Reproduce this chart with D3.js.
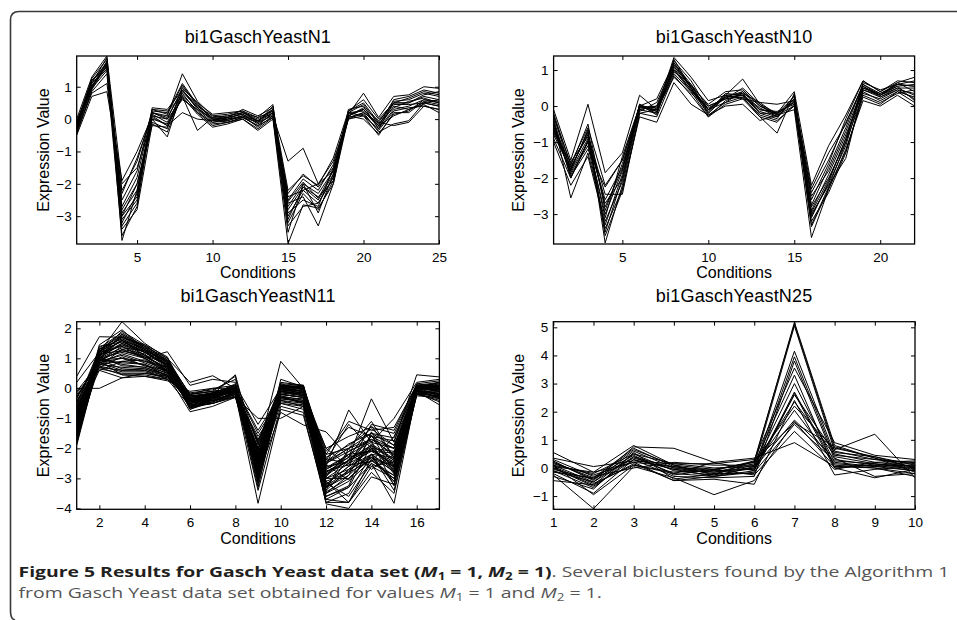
<!DOCTYPE html>
<html>
<head>
<meta charset="utf-8">
<script src="https://cdn.jsdelivr.net/npm/d3@7/dist/d3.min.js"></script>
<style>
    body { margin: 0; background: #fff; }
    svg { display: block; }
</style>
</head>
<body>
<svg id="chart" width="957" height="620"></svg>
<script>
'use strict';

// bi1GaschYeastN1 (25 conditions)
const n1Series = [
    [-0.5, 0.7, 0.85, -1.9, -1.0, 0.1, -0.2, 0.2, 0.0, -0.05, 0.0, 0.05, -0.1, 0.1, -1.3, -0.9, -2.0, -1.6, 0.1, 0.3, -0.2, 0.1, 0.3, 0.5, 0.4],
    [-0.4, 0.8, 1.1, -2.2, -1.3, 0.2, 0.0, 0.6, 0.3, 0.0, -0.05, 0.1, -0.05, 0.2, -2.3, -1.7, -2.1, -1.5, 0.0, 0.2, -0.1, -0.2, -0.1, 0.4, 0.3],
    [-0.3, 0.95, 1.5, -2.5, -1.6, 0.3, 0.25, 0.7, -0.35, 0.05, 0.1, 0.2, 0.0, 0.3, -2.5, -1.85, -2.2, -1.4, 0.2, 0.1, -0.3, 0.5, 0.5, 0.7, 0.6],
    [-0.2, 1.1, 1.6, -2.8, -2.0, 0.0, -0.55, 0.9, 0.4, 0.1, 0.15, 0.25, -0.1, 0.4, -2.7, -2.0, -2.3, -1.6, 0.25, 0.5, -0.1, 0.55, 0.6, 0.8, 0.7],
    [-0.1, 1.2, 1.7, -2.9, -2.2, -0.1, -0.3, 1.0, 0.5, 0.0, -0.1, 0.05, -0.2, 0.2, -2.8, -2.1, -2.5, -1.7, 0.1, 0.3, -0.2, 0.6, 0.7, 0.9, 0.8],
    [0.0, 1.3, 1.95, -3.0, -2.4, 0.2, 0.1, 1.4, 0.55, 0.1, 0.0, 0.2, 0.05, 0.45, -3.0, -2.2, -2.6, -1.8, 0.15, 0.8, 0.05, 0.7, 0.75, 1.0, 0.95],
    [-0.3, 1.0, 1.8, -3.1, -2.5, 0.35, 0.3, 0.9, 0.3, -0.1, -0.05, 0.1, -0.25, 0.1, -3.2, -2.3, -2.8, -1.9, 0.3, 0.4, -0.3, 0.3, 0.4, 0.6, 0.5],
    [-0.45, 0.9, 1.7, -3.2, -2.3, 0.15, -0.1, 0.8, 0.2, -0.2, -0.1, 0.0, -0.35, 0.0, -3.85, -2.65, -2.75, -2.0, 0.05, 0.2, -0.4, -0.15, -0.05, 0.5, 0.4],
    [-0.35, 1.05, 1.55, -3.3, -2.6, 0.05, -0.2, 0.85, 0.35, -0.05, 0.05, 0.15, -0.15, 0.15, -2.6, -2.4, -3.3, -2.0, 0.2, 0.25, -0.25, 0.4, 0.3, 0.45, 0.2],
    [-0.25, 1.15, 1.75, -3.4, -2.8, -0.15, -0.4, 0.75, 0.25, -0.15, -0.1, 0.05, -0.2, 0.05, -3.5, -2.0, -2.9, -1.7, 0.0, 0.1, -0.5, 0.2, 0.2, 0.55, 0.45],
    [-0.15, 1.25, 1.85, -3.75, -2.2, 0.25, 0.2, 1.1, 0.45, 0.0, 0.05, 0.3, 0.1, 0.35, -2.2, -1.75, -2.05, -1.2, 0.25, 0.6, 0.0, 0.5, 0.5, 0.75, 0.85],
    [-0.05, 1.0, 1.65, -2.3, -1.2, 0.1, 0.0, 0.95, 0.5, 0.15, 0.2, 0.25, 0.05, 0.25, -2.9, -2.5, -2.7, -1.5, 0.1, 0.35, -0.05, 0.45, 0.45, 0.5, 0.6],
    [-0.4, 0.85, 1.4, -3.6, -2.7, 0.3, 0.15, 1.05, 0.4, 0.05, 0.1, 0.2, -0.05, 0.3, -3.1, -2.1, -2.4, -1.9, 0.2, 0.45, -0.15, 0.35, 0.55, 0.65, 0.5],
    [-0.2, 1.1, 1.9, -2.0, -1.5, 0.0, -0.15, 0.65, 0.2, -0.1, 0.0, 0.1, -0.1, 0.2, -2.4, -2.2, -2.0, -1.3, 0.05, 0.15, -0.35, 0.25, 0.35, 0.4, 0.3],
    [-0.3, 1.2, 1.6, -3.0, -2.0, -0.2, -0.25, 0.7, 0.15, -0.25, -0.15, 0.0, -0.3, 0.05, -3.3, -2.7, -2.6, -1.8, 0.1, 0.0, -0.45, 0.15, 0.25, 0.6, 0.55],
    [-0.1, 0.95, 1.75, -2.7, -1.8, 0.2, 0.05, 0.9, 0.35, 0.0, 0.05, 0.15, -0.05, 0.25, -2.55, -1.95, -2.45, -1.6, 0.15, 0.3, -0.2, 0.5, 0.65, 0.85, 0.75]
];

// bi1GaschYeastN10 (22 conditions)
const n10Series = [
    [-0.1, -1.5, 0.05, -1.85, -1.3, 0.3, -0.1, 1.35, 0.8, 0.15, 0.3, 0.75, 0.05, -0.2, 0.4, -2.2, -1.1, -0.25, 0.7, 0.4, 0.65, 0.8],
    [-0.3, -1.6, -0.6, -2.2, -1.5, 0.0, 0.2, 1.2, 0.6, 0.0, 0.2, 0.5, 0.05, -0.3, 0.2, -2.3, -1.3, -0.5, 0.6, 0.35, 0.6, 0.7],
    [-0.5, -1.7, -0.8, -2.45, -2.45, -0.2, -0.1, 1.1, 0.5, -0.1, 0.1, 0.4, -0.1, -0.2, 0.1, -2.5, -1.8, -0.7, 0.5, 0.3, 0.55, 0.6],
    [-0.7, -1.8, -0.9, -2.7, -2.0, 0.0, -0.2, 1.0, 0.45, -0.2, 0.25, 0.3, -0.2, -0.35, 0.3, -2.8, -2.0, -1.0, 0.65, 0.45, 0.6, 0.55],
    [-0.9, -2.0, -1.0, -3.0, -1.8, 0.05, -0.15, 0.9, 0.4, -0.3, 0.15, 0.35, 0.1, -0.25, 0.0, -3.0, -2.2, -1.45, 0.45, 0.25, 0.5, 0.5],
    [-0.4, -2.55, -1.3, -3.2, -2.1, -0.05, 0.0, 1.25, 0.7, -0.1, 0.3, 0.2, -0.3, -0.75, 0.35, -3.1, -2.1, -0.9, 0.55, 0.3, 0.65, 0.4],
    [-0.6, -1.9, -1.1, -3.4, -2.3, -0.3, -0.45, 0.65, 0.05, -0.25, 0.0, 0.05, -0.4, -0.25, -0.1, -3.65, -2.3, -1.2, 0.15, 0.0, 0.3, 0.0],
    [-0.8, -1.75, -0.7, -3.8, -2.2, -0.1, -0.2, 1.3, 0.5, -0.15, 0.35, 0.3, -0.15, -0.3, 0.2, -3.2, -2.4, -1.3, 0.35, 0.2, 0.45, 0.35],
    [-1.0, -2.2, -1.4, -3.3, -1.9, 0.0, -0.1, 0.8, 0.35, -0.05, 0.2, 0.25, -0.25, -0.4, 0.0, -2.9, -1.9, -0.8, 0.4, 0.15, 0.4, 0.25],
    [-0.2, -1.65, -0.5, -2.9, -1.6, -0.15, 0.1, 1.15, 0.55, 0.05, 0.4, 0.45, 0.0, -0.2, 0.25, -2.6, -1.6, -0.35, 0.7, 0.4, 0.7, 0.65],
    [-0.55, -1.85, -1.0, -3.1, -1.4, 0.0, -0.05, 1.05, 0.45, -0.1, 0.25, 0.3, -0.05, -0.3, 0.15, -3.05, -2.15, -1.1, 0.5, 0.35, 0.55, 0.15],
    [-0.35, -2.0, -0.95, -2.6, -1.7, -0.05, -0.1, 0.95, 0.6, -0.2, 0.3, 0.35, -0.2, -0.2, 0.1, -2.75, -1.7, -0.6, 0.6, 0.3, 0.5, 0.3],
    [-0.75, -1.55, -0.85, -3.5, -2.0, 0.05, -0.25, 1.2, 0.5, -0.25, 0.1, 0.25, -0.3, -0.45, 0.05, -3.3, -2.25, -1.0, 0.3, 0.1, 0.35, 0.45],
    [-0.45, -1.95, -1.2, -2.25, -1.5, -0.1, 0.0, 1.0, 0.4, 0.0, 0.2, 0.3, -0.1, -0.15, 0.05, -2.4, -1.5, -0.45, 0.55, 0.25, 0.45, 0.2],
    [-0.65, -1.7, -0.75, -2.8, -1.75, 0.0, -0.15, 1.1, 0.55, -0.1, 0.25, 0.4, 0.0, -0.25, 0.2, -2.95, -2.05, -0.9, 0.45, 0.3, 0.6, 0.55],
    [-0.25, -1.8, -0.65, -3.6, -2.35, -0.2, -0.3, 0.85, 0.3, -0.3, 0.05, 0.2, 0.1, 0.05, 0.15, -3.35, -2.3, -1.25, 0.25, 0.05, 0.4, 0.1]
];

// bi1GaschYeastN11 (17 conditions)
const n11Series = [
    [-1.9, 1.0, 1.5, 1.2, 0.8, -0.4, -0.2, 0.0, -2.5, 0.0, -0.1, -2.8, -2.4, -1.9, -2.4, 0.0, -0.1],
    [-1.5, 1.2, 1.7, 1.3, 0.9, -0.3, -0.15, -0.1, -2.8, 0.1, 0.0, -3.2, -2.6, -2.0, -2.6, 0.05, 0.0],
    [-1.2, 1.3, 1.8, 1.4, 0.7, -0.5, -0.3, 0.1, -3.0, -0.1, -0.2, -3.5, -2.9, -2.2, -2.8, -0.05, -0.2],
    [-1.0, 1.1, 1.6, 1.1, 0.6, -0.6, -0.35, 0.0, -2.2, -0.2, -0.3, -2.5, -2.1, -1.7, -2.2, 0.1, 0.1],
    [-0.8, 0.9, 1.4, 1.0, 0.5, -0.45, -0.25, -0.05, -1.8, 0.05, 0.05, -2.2, -2.0, -1.5, -1.9, 0.0, 0.2],
    [-0.6, 0.8, 0.9, 0.8, 0.4, -0.3, -0.2, -0.15, -2.0, -0.4, -0.6, -3.0, -2.5, -2.1, -2.5, -0.1, -0.3],
    [-0.4, 0.7, 0.6, 0.6, 0.3, -0.2, -0.1, 0.0, -1.5, -0.3, -0.5, -2.7, -2.2, -1.8, -2.0, 0.05, -0.1],
    [-0.2, 0.65, 0.5, 0.5, 0.35, -0.25, -0.15, -0.2, -1.6, -0.5, -0.7, -3.3, -2.8, -2.4, -2.9, -0.2, -0.4],
    [0.0, 0.0, 0.35, 0.4, 0.25, -0.1, 0.0, 0.1, -1.2, 0.0, -0.1, -2.0, -1.6, -1.3, -1.5, 0.1, 0.0],
    [0.4, 1.72, 1.7, 1.45, 0.9, -0.35, -0.3, -0.05, -2.6, 0.1, 0.05, -3.0, -3.0, -2.3, -3.1, 0.0, -0.2],
    [-1.7, 1.2, 2.22, 1.5, 1.0, 0.2, 0.42, 0.0, -3.2, -0.2, -0.3, -3.85, -4.0, -2.95, -3.2, -0.15, -0.3],
    [-1.3, 1.45, 1.95, 1.3, 0.85, -0.55, -0.4, -0.2, -3.83, -0.7, -0.9, -3.7, -3.3, -2.5, -3.83, -0.1, -0.55],
    [-1.1, 1.0, 1.2, 1.0, 1.22, 0.1, 0.3, 0.2, -2.3, 0.2, 0.1, -2.6, -0.72, -1.8, -1.0, 0.2, 0.3],
    [-0.9, 0.95, 1.0, 0.9, 0.7, -0.4, -0.3, -0.1, -2.1, 0.9, 0.0, -2.4, -1.2, -2.0, -2.1, 0.0, 0.1],
    [-0.7, 1.1, 1.5, 1.1, 0.8, -0.6, -0.5, -0.25, -2.9, -0.8, -1.22, -1.45, -2.3, -0.35, -1.8, 0.45, 0.38],
    [-0.5, 1.3, 1.65, 1.25, 0.75, -0.7, -0.45, -0.1, -2.4, 0.15, -0.05, -3.1, -3.8, -2.6, -3.0, -0.2, -0.25],
    [-0.3, 1.0, 0.8, 0.7, 0.45, -0.78, -0.6, -0.3, -1.0, -1.0, -0.6, -2.2, -1.1, -1.4, -1.3, 0.1, 0.0],
    [-1.6, 0.75, 1.3, 1.15, 0.55, -0.5, -0.35, -0.05, -2.7, -0.05, -0.15, -3.4, -2.7, -2.0, -2.7, -0.05, -0.35],
    [-1.4, 1.15, 1.75, 1.35, 0.95, -0.2, -0.1, 0.4, -3.1, 0.3, 0.05, -2.9, -2.4, -1.6, -2.3, 0.15, 0.05],
    [-0.1, 0.85, 1.0, 0.75, 0.5, -0.15, -0.05, 0.3, -1.9, -0.1, -0.2, -3.6, -3.3, -1.9, -2.4, 0.0, 0.2],
    [-1.8, 1.25, 1.55, 1.2, 0.7, -0.65, -0.4, -0.15, -2.45, -0.25, -0.4, -2.8, -2.3, -1.25, -2.3, 0.05, -0.05],
    [-0.6, 0.9, 1.1, 0.85, 0.55, -0.45, -0.2, 0.0, -2.0, -0.15, -0.25, -3.2, -2.6, -2.2, -2.7, -0.1, -0.15],
    [-0.85, 1.05, 1.45, 1.05, 0.65, -0.35, -0.25, 0.05, -2.25, 0.05, -0.1, -2.5, -2.0, -1.7, -2.0, 0.0, 0.1],
    [-1.05, 1.35, 1.85, 1.4, 1.0, -0.25, -0.2, 0.15, -2.65, -0.05, 0.0, -3.0, -2.7, -2.3, -2.6, 0.1, 0.15],
    [-0.45, 0.8, 0.7, 0.65, 0.4, -0.5, -0.3, -0.1, -1.7, -0.35, -0.45, -3.3, -2.9, -1.55, -2.8, -0.15, -0.45],
    [-1.25, 1.1, 1.6, 1.2, 0.8, -0.7, -0.35, -0.2, -3.4, -0.6, -0.8, -3.8, -3.5, -2.2, -3.2, -0.25, -0.3],
    [-0.65, 0.7, 0.45, 0.45, 0.3, -0.3, -0.25, 0.0, -2.05, 0.1, 0.0, -2.3, -1.9, -1.35, -1.9, 0.05, -0.05],
    [-1.45, 1.3, 1.75, 1.3, 0.85, -0.4, -0.15, 0.1, -2.85, 0.05, -0.05, -2.65, -2.2, -2.6, -2.45, 0.0, 0.1],
    [0.2, 1.2, 1.4, 1.0, 0.6, -0.2, 0.0, 0.0, -1.4, -0.2, -0.3, -2.0, -2.6, -1.2, -1.4, 0.15, 0.25],
    [-0.95, 0.6, 0.9, 0.95, 0.55, -0.55, -0.4, -0.3, -2.35, -0.45, -0.55, -3.5, -3.1, -2.4, -3.0, -0.05, -0.2],
    [-1.15, 1.0, 1.35, 1.25, 0.75, -0.45, -0.3, -0.1, -2.15, 0.0, -0.1, -2.7, -2.3, -2.05, -2.55, 0.05, 0.0],
    [-0.75, 1.15, 1.6, 1.3, 0.8, -0.6, -0.45, -0.15, -2.55, -0.1, -0.2, -3.1, -2.8, -1.85, -2.35, -0.1, -0.1],
    [-1.55, 0.95, 1.25, 1.1, 0.65, -0.3, -0.2, 0.05, -3.0, -0.3, -0.35, -2.45, -2.0, -2.7, -2.2, 0.1, 0.05],
    [-0.35, 1.05, 1.8, 1.35, 0.9, -0.2, -0.1, 0.0, -1.85, 0.05, 0.1, -2.35, -2.5, -1.6, -1.75, 0.0, 0.15],
    [-1.35, 0.85, 1.15, 0.9, 0.6, -0.65, -0.5, -0.2, -2.75, -0.25, -0.5, -3.7, -3.8, -2.8, -3.5, -0.2, -0.35],
    [-0.55, 1.25, 1.7, 1.4, 0.95, -0.35, -0.2, 0.45, -2.35, 0.0, 0.05, -2.9, -2.2, -2.1, -2.15, 0.05, 0.05],
    [-1.75, 0.9, 0.45, 0.4, 0.3, -0.6, -0.5, -0.3, -2.9, -0.5, -0.6, -3.8, -3.8, -2.35, -3.1, -0.1, -0.2],
    [-0.25, 0.6, 0.35, 0.5, 0.4, -0.4, -0.2, -0.1, -2.2, -0.15, -0.2, -2.1, -1.3, -1.6, -2.0, 0.05, 0.0],
    [-1.65, 1.05, 0.75, 0.7, 0.45, -0.45, -0.3, -0.05, -3.1, 0.0, -0.1, -3.3, -2.35, -1.9, -2.85, 0.0, -0.1],
    [-0.15, 0.75, 0.55, 0.55, 0.35, -0.35, -0.25, 0.0, -2.6, -0.05, -0.1, -2.55, -3.05, -2.2, -2.3, 0.1, 0.05],
    [-1.05, 0.95, 0.85, 0.8, 0.5, -0.5, -0.35, -0.1, -2.4, -0.2, -0.3, -3.6, -3.25, -1.45, -2.6, -0.05, -0.25],
    [-0.5, 0.7, 1.05, 0.75, 0.6, -0.25, -0.2, 0.05, -2.95, -0.35, -0.4, -2.95, -2.1, -1.75, -3.25, 0.05, 0.1],
    [-1.4, 1.4, 1.55, 1.25, 0.9, -0.4, -0.25, 0.0, -2.7, 0.15, 0.1, -2.75, -2.55, -2.45, -1.6, 0.0, -0.05],
    [-0.95, 1.15, 1.25, 1.05, 0.7, -0.5, -0.4, -0.15, -2.0, -0.1, -0.15, -3.4, -2.0, -1.1, -2.3, 0.1, 0.0],
    [-1.2, 1.0, 1.65, 1.3, 0.85, -0.3, -0.15, 0.1, -2.5, 0.05, 0.0, -3.15, -3.6, -2.5, -2.9, -0.05, 0.1],
    [-0.7, 0.85, 0.6, 0.65, 0.45, -0.55, -0.45, -0.2, -2.3, -0.4, -0.5, -2.6, -2.45, -1.95, -2.65, -0.1, -0.2],
    [-1.85, 1.2, 1.9, 1.45, 1.05, -0.45, -0.35, -0.05, -3.3, -0.1, -0.25, -3.25, -2.75, -2.2, -3.4, -0.15, -0.25],
    [-0.3, 0.9, 1.3, 1.0, 0.6, -0.4, -0.3, -0.1, -1.75, 0.1, 0.05, -2.45, -1.85, -1.5, -1.65, 0.1, 0.2],
    [-1.5, 1.1, 1.45, 1.2, 0.75, -0.6, -0.5, -0.25, -2.8, -0.3, -0.45, -3.45, -3.0, -2.3, -2.75, -0.1, -0.3],
    [-0.8, 0.95, 0.65, 0.6, 0.4, -0.35, -0.2, 0.0, -2.2, -0.05, -0.15, -2.85, -2.4, -2.05, -2.45, 0.0, -0.05]
];

// bi1GaschYeastN25 (10 conditions)
const n25Series = [
    [0.55, -0.15, 0.8, 0.1, -0.05, 0.2, 5.18, 0.8, 0.35, 0.0],
    [0.2, -0.35, 0.7, 0.05, -0.1, 0.25, 5.12, 0.7, 0.4, 0.1],
    [0.1, -0.5, 0.6, 0.0, -0.2, 0.1, 5.05, 0.6, 0.3, 0.15],
    [0.0, -0.6, 0.5, -0.1, -0.25, 0.0, 4.15, 0.5, 0.2, 0.05],
    [-0.1, -0.7, 0.4, -0.2, -0.3, -0.1, 3.95, 0.4, 0.15, -0.05],
    [-0.2, -0.9, 0.3, -0.3, -0.35, -0.3, 3.8, 0.3, 0.1, -0.1],
    [0.35, 0.05, 0.25, 0.15, 0.15, 0.3, 3.55, 0.9, 0.45, 0.3],
    [0.15, -0.25, 0.2, 0.05, -0.15, 0.15, 3.3, 0.0, 0.1, 0.2],
    [-0.05, -0.4, 0.35, -0.05, -0.3, 0.05, 3.0, 0.2, 0.05, -0.1],
    [0.25, -0.45, 0.75, 0.7, 0.2, -0.1, 2.7, 0.1, 0.0, -0.2],
    [-0.3, -0.75, 0.55, -0.4, -0.2, -0.2, 2.65, 0.0, -0.35, -0.05],
    [0.05, -0.55, 0.1, -0.15, -0.1, -0.05, 2.6, 0.55, 0.4, 0.0],
    [-0.45, -0.6, 0.15, -0.45, -0.4, -0.58, 2.4, -0.25, -0.05, 0.05],
    [0.3, -0.3, 0.0, 0.2, 0.1, 0.1, 2.35, 0.45, 0.3, 0.2],
    [-0.15, -0.35, 0.45, -0.25, -0.05, 0.2, 2.2, 0.65, 1.2, -0.35],
    [0.1, -0.2, 0.5, 0.15, 0.0, 0.05, 2.05, 0.15, 0.05, 0.1],
    [0.0, -0.65, 0.3, -0.05, -0.15, 0.0, 1.7, 0.35, -0.3, -0.2],
    [-0.25, -1.45, 0.05, -0.35, -0.95, -0.45, 1.65, 0.05, 0.0, -0.3],
    [0.2, -0.4, 0.65, 0.1, -0.25, 0.25, 1.6, 0.75, 0.35, -0.15],
    [0.05, -0.15, 0.2, -0.45, -0.3, -0.15, 1.55, 0.25, 0.15, 0.0],
    [-0.1, -0.5, 0.4, 0.0, -0.05, -0.25, 1.3, -0.05, 0.2, 0.25],
    [0.1, -0.95, 0.1, -0.2, 0.2, 0.35, 0.9, 0.05, 0.1, 0.1]
];

const n1XTicks = [5, 10, 15, 20, 25];
const n1YTicks = [-3, -2, -1, 0, 1];
const n10XTicks = [5, 10, 15, 20];
const n10YTicks = [-3, -2, -1, 0, 1];
const n11XTicks = [2, 4, 6, 8, 10, 12, 14, 16];
const n11YTicks = [-4, -3, -2, -1, 0, 1, 2];
const n25XTicks = [1, 2, 3, 4, 5, 6, 7, 8, 9, 10];
const n25YTicks = [-1, 0, 1, 2, 3, 4, 5];

const panels = [
    { title: 'bi1GaschYeastN1', series: n1Series, xTicks: n1XTicks, yTicks: n1YTicks,
      yDomain: [-3.86, 1.95], left: 76.7, right: 439, top: 56, bottom: 244, titleY: 43.3, labelX: 49 },
    { title: 'bi1GaschYeastN10', series: n10Series, xTicks: n10XTicks, yTicks: n10YTicks,
      yDomain: [-3.83, 1.39], left: 553.6, right: 914.6, top: 56, bottom: 244, titleY: 43.3, labelX: 524 },
    { title: 'bi1GaschYeastN11', series: n11Series, xTicks: n11XTicks, yTicks: n11YTicks,
      yDomain: [-4.03, 2.22], left: 76.7, right: 439.4, top: 321.7, bottom: 509.3, titleY: 301.7, labelX: 49 },
    { title: 'bi1GaschYeastN25', series: n25Series, xTicks: n25XTicks, yTicks: n25YTicks,
      yDomain: [-1.47, 5.2], left: 553.3, right: 915, top: 321.7, bottom: 509.3, titleY: 301.7, labelX: 524 }
];

const font = '"Liberation Sans", Arial, Helvetica, sans-serif';
const svg = d3.select('#chart');

// outer box, open on the right side
svg.append('path')
    .attr('d', 'M957,11.5 H19 Q10.5,11.5 10.5,20 V611 Q10.5,619 15,620')
    .attr('fill', 'none')
    .attr('stroke', '#3a3a3a')
    .attr('stroke-width', 1.6);

const fmt = (d) => d < 0 ? '\u2212' + Math.abs(d) : String(d);

panels.forEach((p, k) => {
    const n = p.series[0].length;
    const x = d3.scaleLinear().domain([1, n]).range([p.left, p.right]);
    const y = d3.scaleLinear().domain(p.yDomain).range([p.bottom, p.top]);
    const g = svg.append('g');

    g.append('clipPath').attr('id', 'clip' + k)
        .append('rect')
        .attr('x', p.left).attr('y', p.top)
        .attr('width', p.right - p.left).attr('height', p.bottom - p.top);

    const line = d3.line()
        .x((d, i) => x(i + 1))
        .y((d) => y(d));

    g.append('g')
        .attr('clip-path', 'url(#clip' + k + ')')
        .selectAll('path')
        .data(p.series)
        .enter().append('path')
        .attr('d', line)
        .attr('fill', 'none')
        .attr('stroke', '#000')
        .attr('stroke-width', 1);

    // MATLAB style: ticks inside on all four sides
    const bottomAxis = g.append('g')
        .attr('transform', 'translate(0,' + p.bottom + ')')
        .call(d3.axisBottom(x).tickValues(p.xTicks).tickSize(-4).tickPadding(8).tickFormat(fmt));
    const leftAxis = g.append('g')
        .attr('transform', 'translate(' + p.left + ',0)')
        .call(d3.axisLeft(y).tickValues(p.yTicks).tickSize(-4).tickPadding(5).tickFormat(fmt));
    const topAxis = g.append('g')
        .attr('transform', 'translate(0,' + p.top + ')')
        .call(d3.axisTop(x).tickValues(p.xTicks).tickSize(-4).tickFormat(''));
    const rightAxis = g.append('g')
        .attr('transform', 'translate(' + p.right + ',0)')
        .call(d3.axisRight(y).tickValues(p.yTicks).tickSize(-4).tickFormat(''));

    [bottomAxis, leftAxis, topAxis, rightAxis].forEach((a) => {
        a.attr('font-family', font).attr('font-size', 13.5);
        a.select('.domain').remove();
        a.selectAll('line').attr('stroke', '#000').attr('stroke-width', 1);
        a.selectAll('text').attr('fill', '#000');
    });

    g.append('rect')
        .attr('x', p.left).attr('y', p.top)
        .attr('width', p.right - p.left).attr('height', p.bottom - p.top)
        .attr('fill', 'none')
        .attr('stroke', '#000')
        .attr('stroke-width', 1.3);

    g.append('text')
        .attr('x', (p.left + p.right) / 2)
        .attr('y', p.titleY)
        .attr('text-anchor', 'middle')
        .style('font-family', font)
        .style('font-size', '18px')
        .style('letter-spacing', '0.2px')
        .text(p.title);

    g.append('text')
        .attr('x', (p.left + p.right) / 2)
        .attr('y', p.bottom + 34.3)
        .attr('text-anchor', 'middle')
        .style('font-family', font)
        .style('font-size', '16px')
        .text('Conditions');

    g.append('text')
        .attr('transform', 'translate(' + p.labelX + ',' + ((p.top + p.bottom) / 2) + ') rotate(-90)')
        .attr('text-anchor', 'middle')
        .style('font-family', font)
        .style('font-size', '16px')
        .text('Expression Value');
});

// caption: each line is squeezed horizontally to the width it has in the figure
const capFont = '"Open Sans", "Noto Sans", sans-serif';

const addSpan = (t, str, opts) => {
    const s = t.append('tspan').text(str);
    if (opts.bold) s.attr('font-weight', 'bold').attr('fill', '#231f20');
    if (opts.italic) s.attr('font-style', 'italic');
    if (opts.sub) s.attr('font-size', '10px').attr('dy', 3);
    if (opts.up) s.attr('dy', -3);
    return s;
};

const captionLine = (baseline, width, parts) => {
    const g = svg.append('g');
    const t = g.append('text')
        .attr('x', 0).attr('y', 0)
        .style('font-family', capFont)
        .style('font-size', '14.5px')
        .attr('fill', '#555');
    parts.forEach((pt) => addSpan(t, pt[0], pt[1] || {}));
    const len = t.node().getComputedTextLength();
    g.attr('transform', 'translate(18.5,' + baseline + ') scale(' + (width / len) + ',1)');
};

captionLine(577, 931, [
    ['Figure 5 Results for Gasch Yeast data set (', { bold: true }],
    ['M', { bold: true, italic: true }],
    ['1', { bold: true, sub: true }],
    [' = 1, ', { bold: true, up: true }],
    ['M', { bold: true, italic: true }],
    ['2', { bold: true, sub: true }],
    [' = 1)', { bold: true, up: true }],
    ['. Several biclusters found by the Algorithm 1']
]);

captionLine(597.5, 584, [
    ['from Gasch Yeast data set obtained for values '],
    ['M', { italic: true }],
    ['1', { sub: true }],
    [' = 1 and ', { up: true }],
    ['M', { italic: true }],
    ['2', { sub: true }],
    [' = 1.', { up: true }]
]);
</script>
</body>
</html>
